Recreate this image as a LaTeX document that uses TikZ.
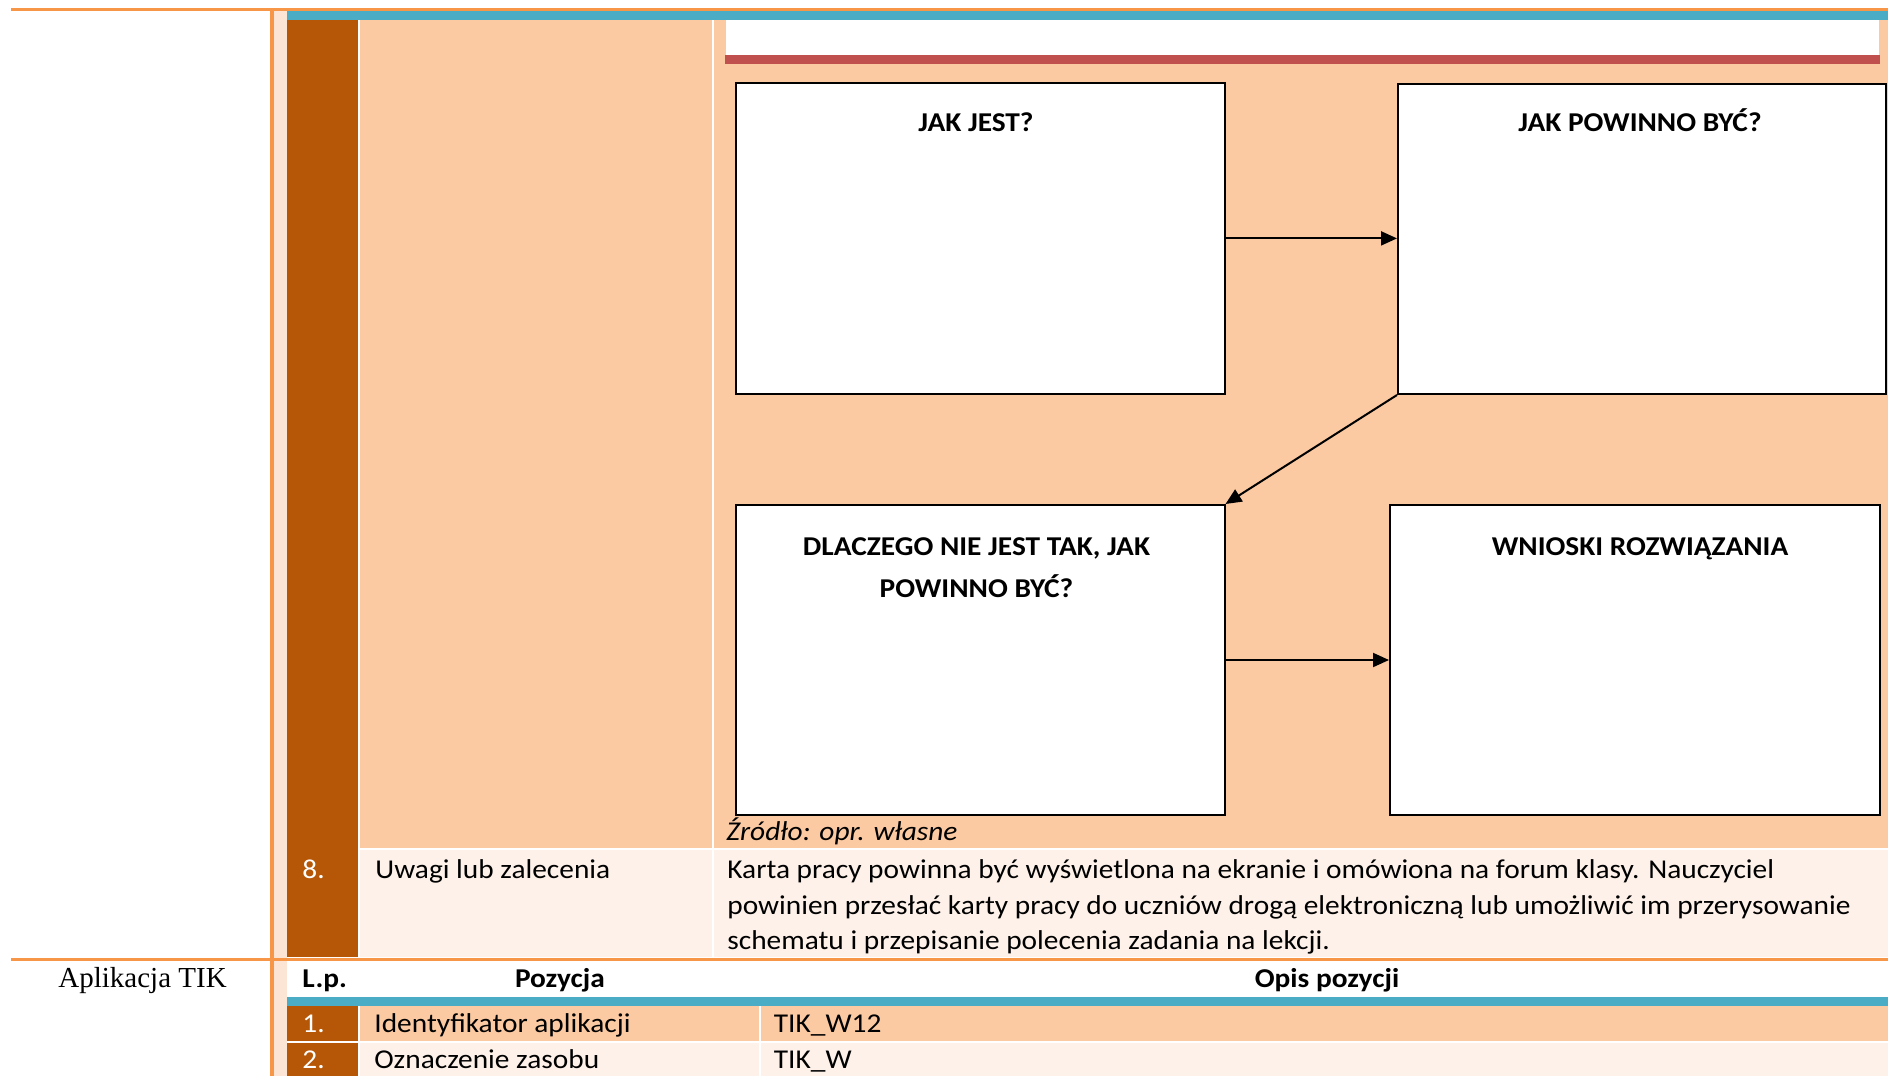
\documentclass[tikz,border=0pt]{standalone}
\usepackage{fontspec}
\setmainfont{Carlito}[FakeStretch=1.08]
\newfontfamily\serifface{Liberation Serif}
\usetikzlibrary{arrows.meta,fit,calc}
\definecolor{rulecol}{HTML}{F79646}
\definecolor{tealbar}{HTML}{4BACC6}
\definecolor{browncol}{HTML}{B65708}
\definecolor{peach}{HTML}{FBCAA2}
\definecolor{lightrow}{HTML}{FDF1E9}
\definecolor{lightcol}{HTML}{FDE5D5}
\definecolor{redbar}{HTML}{C0504D}
\newcommand\cellfont{\fontsize{13.6}{16.6}\selectfont}
\tikzset{
  box/.style={draw=black, line width=1pt, fill=white, inner sep=0pt},
  title/.style={font=\cellfont\bfseries, inner sep=0pt, anchor=base},
  txt/.style={font=\cellfont, inner sep=0pt, anchor=base west},
  hdr/.style={font=\cellfont\bfseries, inner sep=0pt, anchor=base},
  num/.style={txt, text=white},
  conn/.style={draw=black, line width=1pt, -{Triangle[length=8pt,width=7pt]}}
}
\begin{document}
\begin{tikzpicture}[x=0.5pt,y=-0.5pt]
\useasboundingbox (0,0) rectangle (1888,1076);
\fill[white] (0,0) rectangle (1888,1076);

% table background: rules, bars and cell fills
\fill[lightcol] (274,11) rectangle (287,1076);
\fill[rulecol] (270,8.3) rectangle (274,1076);
\fill[rulecol] (11,8.3) rectangle (1888,11);
\fill[tealbar] (287,11) rectangle (1888,20);
\fill[browncol] (287,20) rectangle (358,957);
\fill[peach] (360,20) rectangle (712,848);
\fill[peach] (714,20) rectangle (1888,848);
\fill[white] (726,20) rectangle (1879,55);
\fill[redbar] (725,55) rectangle (1879.5,64);
\fill[lightrow] (360,849.5) rectangle (712,957);
\fill[lightrow] (714,849.5) rectangle (1888,957);
\fill[rulecol] (11,958) rectangle (1888,961);
\fill[tealbar] (287,997) rectangle (1888,1006);
\fill[browncol] (287,1006) rectangle (358,1041);
\fill[peach] (360,1006) rectangle (759,1041);
\fill[peach] (761,1006) rectangle (1888,1041);
\fill[browncol] (287,1042.5) rectangle (358,1076);
\fill[lightrow] (360,1042.5) rectangle (759,1076);
\fill[lightrow] (761,1042.5) rectangle (1888,1076);

% diagram boxes
\node[box, fit={(735.6,83.3) (1225,393.5)}] (b1) {};
\node[box, fit={(1398,84) (1886,394)}] (b2) {};
\node[box, fit={(735.6,505) (1224.5,815)}] (b3) {};
\node[box, fit={(1390,505) (1880,815)}] (b4) {};

\node[title] (t1) at (976,131.5) {JAK JEST?};
\node[title] (t2) at (1640,131.5) {JAK POWINNO BYĆ?};
\node[title] (t3a) at (976.5,555.5) {DLACZEGO NIE JEST TAK, JAK};
\node[title] (t3b) at (976.5,597) {POWINNO BYĆ?};
\node[title] (t4) at (1640,555.5) {WNIOSKI ROZWIĄZANIA};

% connectors
\draw[conn] (b1.east) -- (b1.east -| b2.west);
\draw[conn] (b2.south west) -- (b3.north east);
\draw[conn] (b3.east) -- (b3.east -| b4.west);

% source note and row 8
\node[txt, font=\cellfont\itshape] (src) at (726,840) {Źródło: opr. własne};
\node[num] (n8) at (302,878) {8.};
\node[txt] (c8) at (375,878) {Uwagi lub zalecenia};
\node[txt] (d8a) at (727,878) {Karta pracy powinna być wyświetlona na ekranie i omówiona na forum klasy. Nauczyciel};
\node[txt] (d8b) at (727,914) {powinien przesłać karty pracy do uczniów drogą elektroniczną lub umożliwić im przerysowanie};
\node[txt] (d8c) at (727,949.5) {schematu i przepisanie polecenia zadania na lekcji.};

% application table
\node[inner sep=0pt, anchor=base west, font=\serifface\fontsize{14.5}{17.7}\selectfont] (app) at (58,987) {Aplikacja TIK};
\node[hdr, anchor=base west] (hlp) at (302,987) {L.p.};
\node[hdr] (hpoz) at (560,987) {Pozycja};
\node[hdr] (hopis) at (1327,987) {Opis pozycji};
\node[num] (n1) at (302,1032) {1.};
\node[txt] (r1a) at (374,1032) {Identyfikator aplikacji};
\node[txt] (r1b) at (773.5,1032) {TIK\_W12};
\node[num] (n2) at (302,1068) {2.};
\node[txt] (r2a) at (374,1068) {Oznaczenie zasobu};
\node[txt] (r2b) at (773.5,1068) {TIK\_W};
\end{tikzpicture}
\end{document}
